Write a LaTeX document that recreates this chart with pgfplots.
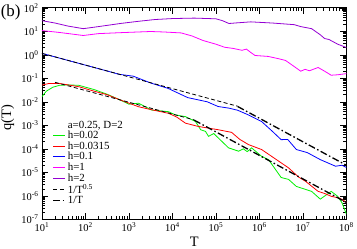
\documentclass[border=0pt]{standalone}
\usepackage{pgfplots}
\pgfplotsset{compat=1.18}
\usepackage{fontspec}
\setmainfont{Liberation Serif}
\definecolor{cgreen}{RGB}{0,240,0}
\definecolor{cred}{RGB}{255,0,0}
\definecolor{cblue}{RGB}{0,0,255}
\definecolor{cmag}{RGB}{255,0,255}
\definecolor{cviol}{RGB}{148,0,211}
\begin{document}
\begin{tikzpicture}
\begin{axis}[
  scale only axis,
  width=305bp, height=212bp,
  xmode=log, ymode=log,
  xmin=1e1, xmax=1e8, ymin=1e-7, ymax=1e2,
  tick align=inside,
  major tick length=6bp, minor tick length=3bp,
  tick style={black, line width=0.5pt},
  axis line style={line width=0.7pt},
  /pgf/number format/assume math mode=true,
  xticklabel={10\textsuperscript{\pgfmathparse{\tick/ln(10)}\pgfmathprintnumber[fixed,precision=0]{\pgfmathresult}}},
  yticklabel={10\textsuperscript{\pgfmathparse{\tick/ln(10)}\pgfmathprintnumber[fixed,precision=0]{\pgfmathresult}}},
  tick label style={font=\fontsize{10.5}{12}\selectfont},
  xlabel={T}, ylabel={q(T)},
  label style={font=\fontsize{14.5}{16}\selectfont, inner sep=1bp},
  xlabel style={at={(rel axis cs:0.5,0)}, anchor=base, yshift=-27bp, inner sep=2bp},
  ylabel style={at={(rel axis cs:0,0.48)}, anchor=center, yshift=34.5bp},
  legend style={draw=none, fill=none, at={(rel axis cs:0.035,0.475)}, anchor=north west,
    font=\fontsize{11}{11}\selectfont, row sep=-2.5bp, inner sep=0pt},
  legend cell align=left,
  legend image code/.code={\draw[#1, line width=1pt] plot coordinates {(0bp,0bp) (12bp,0bp)};},
  every axis plot/.append style={line width=0.8pt},
  clip mode=individual,
]
\addlegendimage{empty legend}
\addlegendentry{a=0.25, D=2}
% h=0.02
\addplot[cgreen] coordinates {
(1e1,0.0166)(1.259e1,0.0282)(1.778e1,0.0417)(2.512e1,0.0501)(3.981e1,0.0525)
(7.079e1,0.0501)(1.585e2,0.0331)(3.162e2,0.0209)(5.888e2,0.0126)(1e3,7.94e-3)
(1.660e3,8.71e-3)(3.311e3,4.47e-3)(8.128e3,3.80e-3)(1.175e4,2.75e-3)(1.995e4,2.34e-3)
(3.388e4,1.45e-3)(4.467e4,6.46e-4)(5.754e4,5.50e-4)(6.761e4,3.39e-4)(8.913e4,4.47e-4)
(1.122e5,2.95e-4)(1.950e5,1.10e-4)(3.311e5,7.94e-5)(4.266e5,1.0e-4)(5.248e5,7.59e-5)
(6.607e5,1.10e-4)(1.122e6,4.79e-5)(1.622e6,3.47e-5)(2.344e6,1.32e-5)(3.162e6,6.03e-6)
(4.677e6,5.01e-6)(7.079e6,2.51e-6)(1.122e7,1.91e-6)(1.585e7,1.55e-6)(2.512e7,7.24e-7)
(4.467e7,1.55e-6)(6.310e7,9.55e-7)(7.943e7,5.01e-7)(1e8,1.66e-7)};
\addlegendentry{h=0.02}
% h=0.0315
\addplot[cred] coordinates {
(1e1,0.0513)(1.445e1,0.0603)(2.512e1,0.0603)(7.079e1,0.0437)(1.585e2,0.0282)
(3.162e2,0.0200)(5.888e2,0.0126)(1.660e3,6.17e-3)(3.162e3,4.68e-3)(8.128e3,3.24e-3)
(1.259e4,2.24e-3)(1.995e4,1.23e-3)(3.981e4,8.91e-4)(1.148e5,6.46e-4)(2.291e5,5.01e-4)
(3.548e5,2.51e-4)(5.623e5,1.51e-4)(1.122e6,9.33e-5)(1.905e6,4.79e-5)(4.677e6,1.55e-5)
(7.943e6,6.31e-6)(1.148e7,4.17e-6)(2.239e7,1.55e-6)(3.162e7,1.26e-6)(4.467e7,9.55e-7)
(7.079e7,7.94e-7)(1e8,5.37e-7)};
\addlegendentry{h=0.0315}
% h=0.1
\addplot[cblue] coordinates {
(1e1,1.148)(3.162e1,0.646)(1e2,0.363)(3.162e2,0.204)(5.888e2,0.148)
(1.259e3,0.123)(3.162e3,0.0631)(7.943e3,0.0372)(2.239e4,0.0151)(6.310e4,0.0100)
(1.122e5,6.31e-3)(1.995e5,5.37e-3)(3.162e5,4.37e-3)(5.623e5,2.75e-3)(1.122e6,1.45e-3)
(1.995e6,5.50e-4)(3.162e6,2.45e-4)(4.467e6,2.51e-4)(7.079e6,9.33e-5)(1.259e7,6.92e-5)
(2.512e7,3.47e-5)(5.623e7,1.82e-5)(7.943e7,2.0e-5)(1e8,1.62e-5)};
\addlegendentry{h=0.1}
% h=1
\addplot[cmag] coordinates {
(1e1,10.7)(2.512e1,8.91)(8.913e1,6.61)(1.995e2,7.94)(6.310e2,8.71)
(3.162e3,9.77)(6.310e3,9.33)(1.585e4,8.51)(2.818e4,6.31)(5.012e4,4.07)
(1e5,2.82)(1.585e5,2.09)(2.512e5,1.86)(3.981e5,1.55)(5.012e5,1.74)
(6.310e5,1.26)(7.943e5,0.933)(1.585e6,0.851)(2.512e6,0.708)(3.981e6,0.575)
(6.310e6,0.316)(8.913e6,0.200)(1.122e7,0.240)(1.413e7,0.209)(2.239e7,0.288)
(3.162e7,0.200)(4.467e7,0.135)(6.310e7,0.141)(1e8,0.158)};
\addlegendentry{h=1}
% h=2
\addplot[cviol] coordinates {
(1e1,28.2)(1.995e1,22.4)(3.981e1,16.6)(8.913e1,12.9)(1.995e2,15.8)
(6.310e2,21.4)(1.585e3,26.3)(3.981e3,31.6)(1e4,34.7)(3.162e4,36.3)
(1e5,33.9)(1.413e5,28.2)(1.995e5,21.4)(3.162e5,22.9)(6.310e5,25.1)
(1.995e6,22.4)(6.310e6,19.1)(8.913e6,15.8)(1.585e7,12.9)(2.512e7,7.08)
(3.162e7,4.90)(3.981e7,4.47)(6.310e7,2.82)(1e8,2.04)};
\addlegendentry{h=2}
% 1/T^0.5
\addplot[black, dash pattern=on 4bp off 2.5bp] coordinates {(1e1,1.148)(3.162e5,6.46e-3)};
\addlegendentry{1/T\textsuperscript{0.5}}
\addplot[black, dash pattern=on 4bp off 2.5bp, forget plot] coordinates {(1.995e1,0.0676)(3.162e4,1.70e-3)};
% 1/T
\addplot[black, line width=1.3pt, dash pattern=on 7bp off 2.5bp on 1.5bp off 2.5bp] coordinates {(3.162e5,6.31e-3)(1e8,2.0e-5)};
\addlegendentry{1/T}
\addplot[black, line width=1.3pt, dash pattern=on 7bp off 2.5bp on 1.5bp off 2.5bp, forget plot] coordinates {(3.162e4,1.66e-3)(1e8,5.25e-7)};
\node[anchor=center, inner sep=0pt, font=\fontsize{17}{19}\selectfont] at (rel axis cs:-0.103,0.979) {(b)};
\end{axis}
\end{tikzpicture}
\end{document}
